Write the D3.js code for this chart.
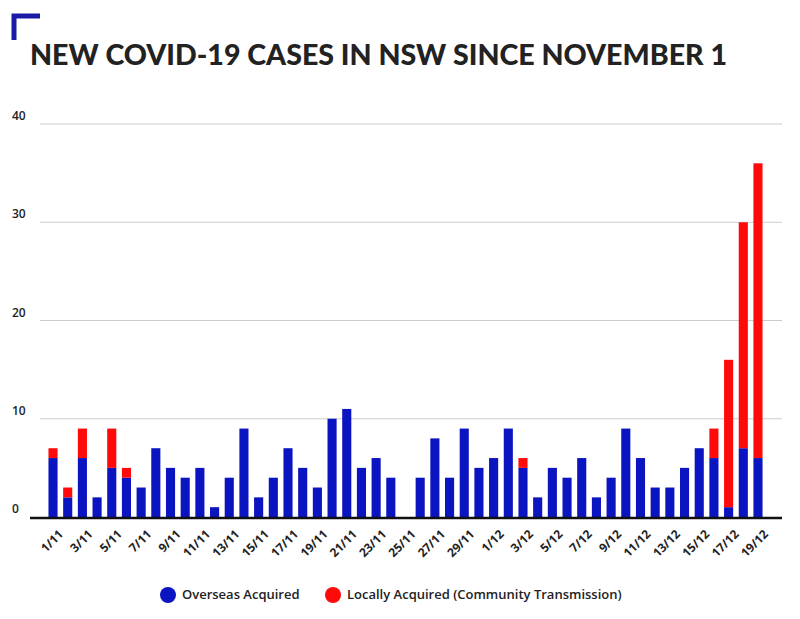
<!DOCTYPE html>
<html><head><meta charset="utf-8">
<script src="https://cdn.jsdelivr.net/npm/d3@7"></script>
<style>body{margin:0;background:#fff;font-family:"Open Sans",sans-serif}</style>
</head><body><svg id="c" width="800" height="619"></svg>
<script>
const labels = []
for (let d = 1; d <= 30; d++) labels.push(d + "/11")
for (let d = 1; d <= 19; d++) labels.push(d + "/12")
const overseas = [6,2,6,2,5,4,3,7,5,4,5,1,4,9,2,4,7,5,3,10,11,5,6,4,0,4,8,4,9,5,6,9,5,2,5,4,6,2,4,9,6,3,3,5,7,6,1,7,6]
const local    = [1,1,3,0,4,1,0,0,0,0,0,0,0,0,0,0,0,0,0,0,0,0,0,0,0,0,0,0,0,0,0,0,1,0,0,0,0,0,0,0,0,0,0,0,0,3,15,23,30]
const yTicks = [0,10,20,30,40]

const svg = d3.select("#c")
// corner bracket
svg.append("path").attr("d","M14,40 V16 H40").attr("fill","none").attr("stroke","#1a1aa6").attr("stroke-width",5)
svg.append("text").attr("x",30).attr("y",65).text("NEW COVID-19 CASES IN NSW SINCE NOVEMBER 1")
  .attr("font-family","Lato, sans-serif").attr("font-weight",900).attr("font-size",29).attr("fill","#222")
  .attr("textLength",697).attr("lengthAdjust","spacingAndGlyphs")

const x = d3.scaleBand().domain(labels).range([47,764]).paddingInner(0.38).paddingOuter(0.1)
const y = d3.scaleLinear().domain([0,40]).range([517,124])

svg.append("g").selectAll("line").data(yTicks.slice(1)).join("line")
  .attr("x1",40).attr("x2",782).attr("y1",d=>y(d)).attr("y2",d=>y(d)).attr("stroke","#ccc")
svg.append("g").selectAll("text").data(yTicks).join("text")
  .attr("x",12).attr("y",d=>y(d)-4).text(d=>d).attr("font-size",12).attr("font-weight",600).attr("fill","#222")

svg.append("g").selectAll("rect").data(labels).join("rect")
  .attr("x",d=>x(d)).attr("width",x.bandwidth())
  .attr("y",(d,i)=>y(overseas[i])).attr("height",(d,i)=>y(0)-y(overseas[i])).attr("fill","#0a14c0")
svg.append("g").selectAll("rect").data(labels).join("rect")
  .attr("x",d=>x(d)).attr("width",x.bandwidth())
  .attr("y",(d,i)=>y(overseas[i]+local[i])).attr("height",(d,i)=>y(0)-y(local[i])).attr("fill","#ff0a0a")

svg.append("line").attr("x1",30).attr("x2",782).attr("y1",y(0)+1).attr("y2",y(0)+1).attr("stroke","#111").attr("stroke-width",2.5)

svg.append("g").selectAll("text").data(labels.filter((d,i)=>i%2===0)).join("text")
  .attr("transform",d=>`translate(${x(d)+x.bandwidth()/2+5},${y(0)+12}) rotate(-45)`)
  .attr("text-anchor","end").attr("dy","0.7em").text(d=>d)
  .attr("font-size",12).attr("font-weight",700).attr("fill","#222")

const legend = [["Overseas Acquired","#0a14c0",168],["Locally Acquired (Community Transmission)","#ff0a0a",333]]
legend.forEach(([t,c,lx])=>{
  svg.append("circle").attr("cx",lx).attr("cy",595).attr("r",8).attr("fill",c)
  svg.append("text").attr("x",lx+14).attr("y",599).text(t).attr("font-size",13).attr("font-weight",600).attr("fill","#222")
})
</script></body></html>
